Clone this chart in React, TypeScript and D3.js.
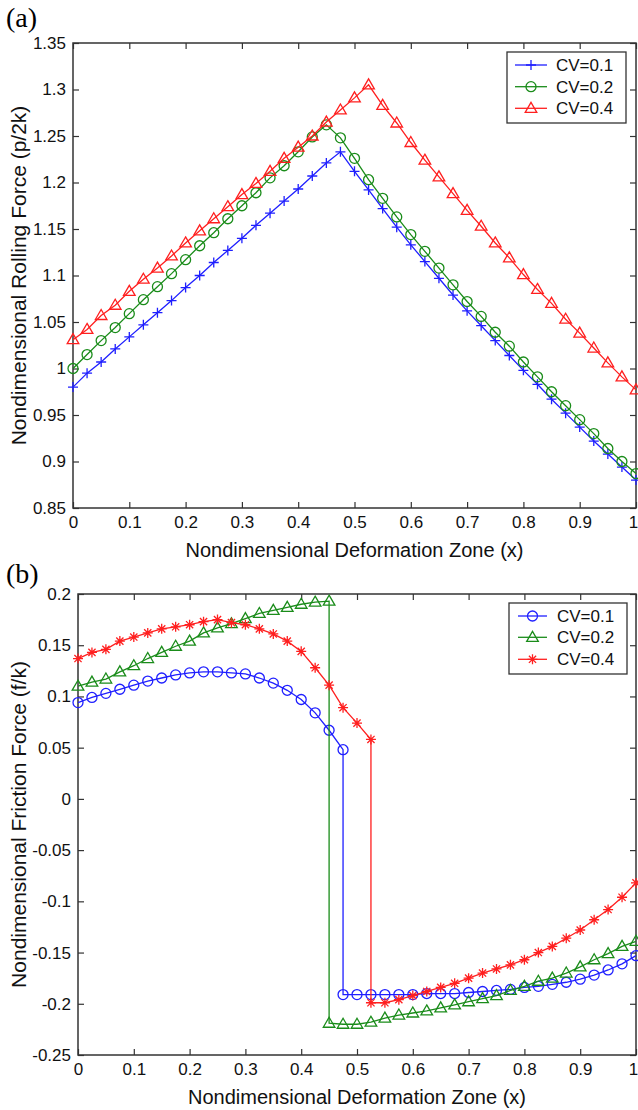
import React, { useEffect, useRef } from 'react'
import * as d3 from 'd3'

// x grid shared by every series (41 stations across the deformation zone)
const xGrid = [0, 0.025, 0.05, 0.075, 0.1, 0.125, 0.15, 0.175, 0.2, 0.225, 0.25, 0.275, 0.3, 0.325, 0.35, 0.375, 0.4,
  0.425, 0.45, 0.475, 0.5, 0.525, 0.55, 0.575, 0.6, 0.625, 0.65, 0.675, 0.7, 0.725, 0.75, 0.775, 0.8, 0.825, 0.85,
  0.875, 0.9, 0.925, 0.95, 0.975, 1]

const xTicks = [0, 0.1, 0.2, 0.3, 0.4, 0.5, 0.6, 0.7, 0.8, 0.9, 1]
const yTicksA = [0.85, 0.9, 0.95, 1, 1.05, 1.1, 1.15, 1.2, 1.25, 1.3, 1.35]
const yTicksB = [-0.25, -0.2, -0.15, -0.1, -0.05, 0, 0.05, 0.1, 0.15, 0.2]
const legendLabels = ['CV=0.1', 'CV=0.2', 'CV=0.4']

// (a) rolling force, one value per xGrid station
const rollCV01 = [0.980, 0.995, 1.007, 1.021, 1.034, 1.047, 1.060, 1.073, 1.087, 1.100, 1.114, 1.127, 1.140, 1.154,
  1.167, 1.180, 1.193, 1.207, 1.221, 1.233, 1.212, 1.192, 1.172, 1.152, 1.133, 1.115, 1.097, 1.079, 1.062, 1.046,
  1.030, 1.014, 0.998, 0.983, 0.967, 0.952, 0.937, 0.922, 0.908, 0.894, 0.880]
const rollCV02 = [1.000, 1.015, 1.030, 1.044, 1.059, 1.074, 1.088, 1.102, 1.117, 1.132, 1.146, 1.161, 1.175, 1.189,
  1.205, 1.218, 1.233, 1.249, 1.262, 1.248, 1.226, 1.203, 1.183, 1.163, 1.144, 1.126, 1.108, 1.090, 1.072, 1.056,
  1.039, 1.024, 1.007, 0.991, 0.975, 0.960, 0.945, 0.930, 0.914, 0.900, 0.887]
const rollCV04 = [1.031, 1.042, 1.057, 1.068, 1.083, 1.096, 1.108, 1.121, 1.135, 1.148, 1.161, 1.174, 1.187, 1.199,
  1.212, 1.226, 1.238, 1.250, 1.265, 1.278, 1.291, 1.305, 1.283, 1.264, 1.243, 1.224, 1.206, 1.188, 1.170, 1.153,
  1.135, 1.119, 1.101, 1.085, 1.070, 1.053, 1.038, 1.022, 1.006, 0.991, 0.977]

// (b) friction force, split at the neutral point (right part starts again at the jump station)
const fricCV01Left = [0.094, 0.099, 0.103, 0.107, 0.111, 0.115, 0.118, 0.121, 0.123, 0.124, 0.124, 0.123, 0.122,
  0.118, 0.113, 0.106, 0.097, 0.084, 0.067, 0.048]
const fricCV01Right = [-0.191, -0.191, -0.191, -0.191, -0.191, -0.191, -0.190, -0.190, -0.190, -0.189, -0.188,
  -0.187, -0.186, -0.184, -0.183, -0.181, -0.179, -0.176, -0.172, -0.167, -0.161, -0.153]
const fricCV02Left = [0.110, 0.114, 0.117, 0.124, 0.130, 0.137, 0.143, 0.149, 0.154, 0.162, 0.167, 0.171, 0.176,
  0.181, 0.184, 0.187, 0.190, 0.192, 0.193]
const fricCV02Right = [-0.219, -0.220, -0.220, -0.218, -0.214, -0.211, -0.209, -0.207, -0.204, -0.201, -0.198,
  -0.195, -0.192, -0.187, -0.183, -0.178, -0.175, -0.170, -0.164, -0.157, -0.151, -0.144, -0.139]
const fricCV04Left = [0.137, 0.143, 0.146, 0.154, 0.158, 0.162, 0.166, 0.168, 0.170, 0.173, 0.175, 0.172, 0.170,
  0.166, 0.161, 0.154, 0.144, 0.128, 0.111, 0.089, 0.074, 0.058]
const fricCV04Right = [-0.199, -0.199, -0.196, -0.192, -0.188, -0.184, -0.180, -0.175, -0.170, -0.166, -0.162,
  -0.157, -0.150, -0.144, -0.136, -0.128, -0.118, -0.108, -0.096, -0.082]

const BLUE = '#1f1fff'
const GREEN = '#1a8c1a'
const RED = '#ff1f1f'
const FONT = '"Liberation Sans", Arial, Helvetica, sans-serif'
const SW = 1.3

type Pt = [number, number]

function withX(vals: number[], start = 0): Pt[] {
  return vals.map((v, i) => [xGrid[start + i], v])
}

function split(left: number[], right: number[]): Pt[] {
  return withX(left).concat(withX(right, left.length - 1))
}

function markerPath(kind: string, x: number, y: number) {
  const s = 5
  if (kind === 'plus') return `M${x - s},${y}H${x + s}M${x},${y - s}V${y + s}`
  if (kind === 'star') {
    const d = s * 0.72
    return `M${x - s},${y}H${x + s}M${x},${y - s}V${y + s}M${x - d},${y - d}L${x + d},${y + d}M${x - d},${y + d}L${x + d},${y - d}`
  }
  if (kind === 'tri') return `M${x},${y - 6}L${x + 5.8},${y + 4}L${x - 5.8},${y + 4}Z`
  // circle
  return `M${x - s},${y}a${s},${s} 0 1,0 ${2 * s},0a${s},${s} 0 1,0 ${-2 * s},0`
}

const panels = [
  {
    tag: '(a)', tagY: 27,
    left: 73, right: 636, top: 43, bottom: 508,
    yDomain: [0.85, 1.35], yTicks: yTicksA,
    yLabel: 'Nondimensional Rolling Force (p/2k)',
    series: [
      { pts: withX(rollCV01), color: BLUE, marker: 'plus' },
      { pts: withX(rollCV02), color: GREEN, marker: 'circle' },
      { pts: withX(rollCV04), color: RED, marker: 'tri' },
    ],
    legend: { x: 507, y: 52, w: 119, h: 71, rows: [65, 86.7, 108.3], l0: 515, l1: 547, tx: 556 },
  },
  {
    tag: '(b)', tagY: 583,
    left: 78, right: 636, top: 594, bottom: 1055,
    yDomain: [-0.25, 0.2], yTicks: yTicksB,
    yLabel: 'Nondimensional Friction Force (f/k)',
    series: [
      { pts: split(fricCV01Left, fricCV01Right), color: BLUE, marker: 'circle' },
      { pts: split(fricCV02Left, fricCV02Right), color: GREEN, marker: 'tri' },
      { pts: split(fricCV04Left, fricCV04Right), color: RED, marker: 'star' },
    ],
    legend: { x: 509, y: 603, w: 118, h: 71, rows: [616, 637.3, 659.3], l0: 518, l1: 547, tx: 557 },
  },
]

function App() {
  const ref = useRef<SVGSVGElement>(null)

  useEffect(() => {
    const svg = d3.select(ref.current)
    svg.selectAll('*').remove()

    panels.forEach(p => {
      const x = d3.scaleLinear().domain([0, 1]).range([p.left, p.right])
      const y = d3.scaleLinear().domain(p.yDomain).range([p.bottom, p.top])
      const g = svg.append('g')

      const styleAxis = (a: any) => {
        a.select('.domain').remove()
        a.attr('font-family', FONT).attr('font-size', 17).attr('color', '#333')
        a.selectAll('text').attr('fill', '#111')
        a.selectAll('line').attr('stroke-width', 1.2)
      }

      const bottomAxis = g.append('g').attr('transform', `translate(0,${p.bottom})`)
        .call(d3.axisBottom(x).tickValues(xTicks).tickSize(-6).tickSizeOuter(0).tickPadding(8).tickFormat(d => String(d)))
        .call(styleAxis)
      // last label sits on the right edge of the page, nudge it in
      bottomAxis.selectAll('text').filter((d: any) => d === 1).attr('dx', -3)

      g.append('g').attr('transform', `translate(0,${p.top})`)
        .call(d3.axisTop(x).tickValues(xTicks).tickSize(-6).tickSizeOuter(0).tickFormat(() => ''))
        .call(styleAxis)
      g.append('g').attr('transform', `translate(${p.left},0)`)
        .call(d3.axisLeft(y).tickValues(p.yTicks).tickSize(-6).tickSizeOuter(0).tickPadding(7).tickFormat(d => String(d)))
        .call(styleAxis)
      g.append('g').attr('transform', `translate(${p.right},0)`)
        .call(d3.axisRight(y).tickValues(p.yTicks).tickSize(-6).tickSizeOuter(0).tickFormat(() => ''))
        .call(styleAxis)

      g.append('rect')
        .attr('x', p.left).attr('y', p.top)
        .attr('width', p.right - p.left).attr('height', p.bottom - p.top)
        .attr('fill', 'none').attr('stroke', '#333').attr('stroke-width', 1.5)

      const line = d3.line<Pt>().x(d => x(d[0])).y(d => y(d[1]))
      p.series.forEach(s => {
        g.append('path').attr('d', line(s.pts))
          .attr('fill', 'none').attr('stroke', s.color).attr('stroke-width', SW)
        g.append('g').selectAll('path').data(s.pts).join('path')
          .attr('d', d => markerPath(s.marker, x(d[0]), y(d[1])))
          .attr('fill', 'none').attr('stroke', s.color).attr('stroke-width', SW)
      })

      // labels
      g.append('text').attr('x', (p.left + p.right) / 2).attr('y', p.bottom + 49)
        .attr('text-anchor', 'middle').attr('font-family', FONT).attr('font-size', 20).attr('fill', '#111')
        .text('Nondimensional Deformation Zone (x)')
      g.append('text')
        .attr('transform', `translate(26,${(p.top + p.bottom) / 2}) rotate(-90)`)
        .attr('text-anchor', 'middle').attr('font-family', FONT).attr('font-size', 21).attr('fill', '#111')
        .text(p.yLabel)
      g.append('text').attr('x', 6).attr('y', p.tagY)
        .attr('font-family', '"Liberation Serif", "Times New Roman", serif').attr('font-size', 28).attr('fill', '#000')
        .text(p.tag)

      // legend
      const L = p.legend
      const lg = g.append('g')
      lg.append('rect').attr('x', L.x).attr('y', L.y).attr('width', L.w).attr('height', L.h)
        .attr('fill', '#fff').attr('stroke', '#333').attr('stroke-width', 1.3)
      p.series.forEach((s, i) => {
        const ry = L.rows[i]
        lg.append('line').attr('x1', L.l0).attr('x2', L.l1).attr('y1', ry).attr('y2', ry)
          .attr('stroke', s.color).attr('stroke-width', SW)
        lg.append('path').attr('d', markerPath(s.marker, (L.l0 + L.l1) / 2, ry))
          .attr('fill', 'none').attr('stroke', s.color).attr('stroke-width', SW)
        lg.append('text').attr('x', L.tx).attr('y', ry).attr('dy', '0.36em')
          .attr('font-family', FONT).attr('font-size', 17).attr('fill', '#111')
          .text(legendLabels[i])
      })
    })
  }, [])

  return (
    <svg ref={ref} width={638} height={1110}
      style={{ position: 'absolute', left: 0, top: 0, display: 'block', background: '#fff' }} />
  )
}

export default App
